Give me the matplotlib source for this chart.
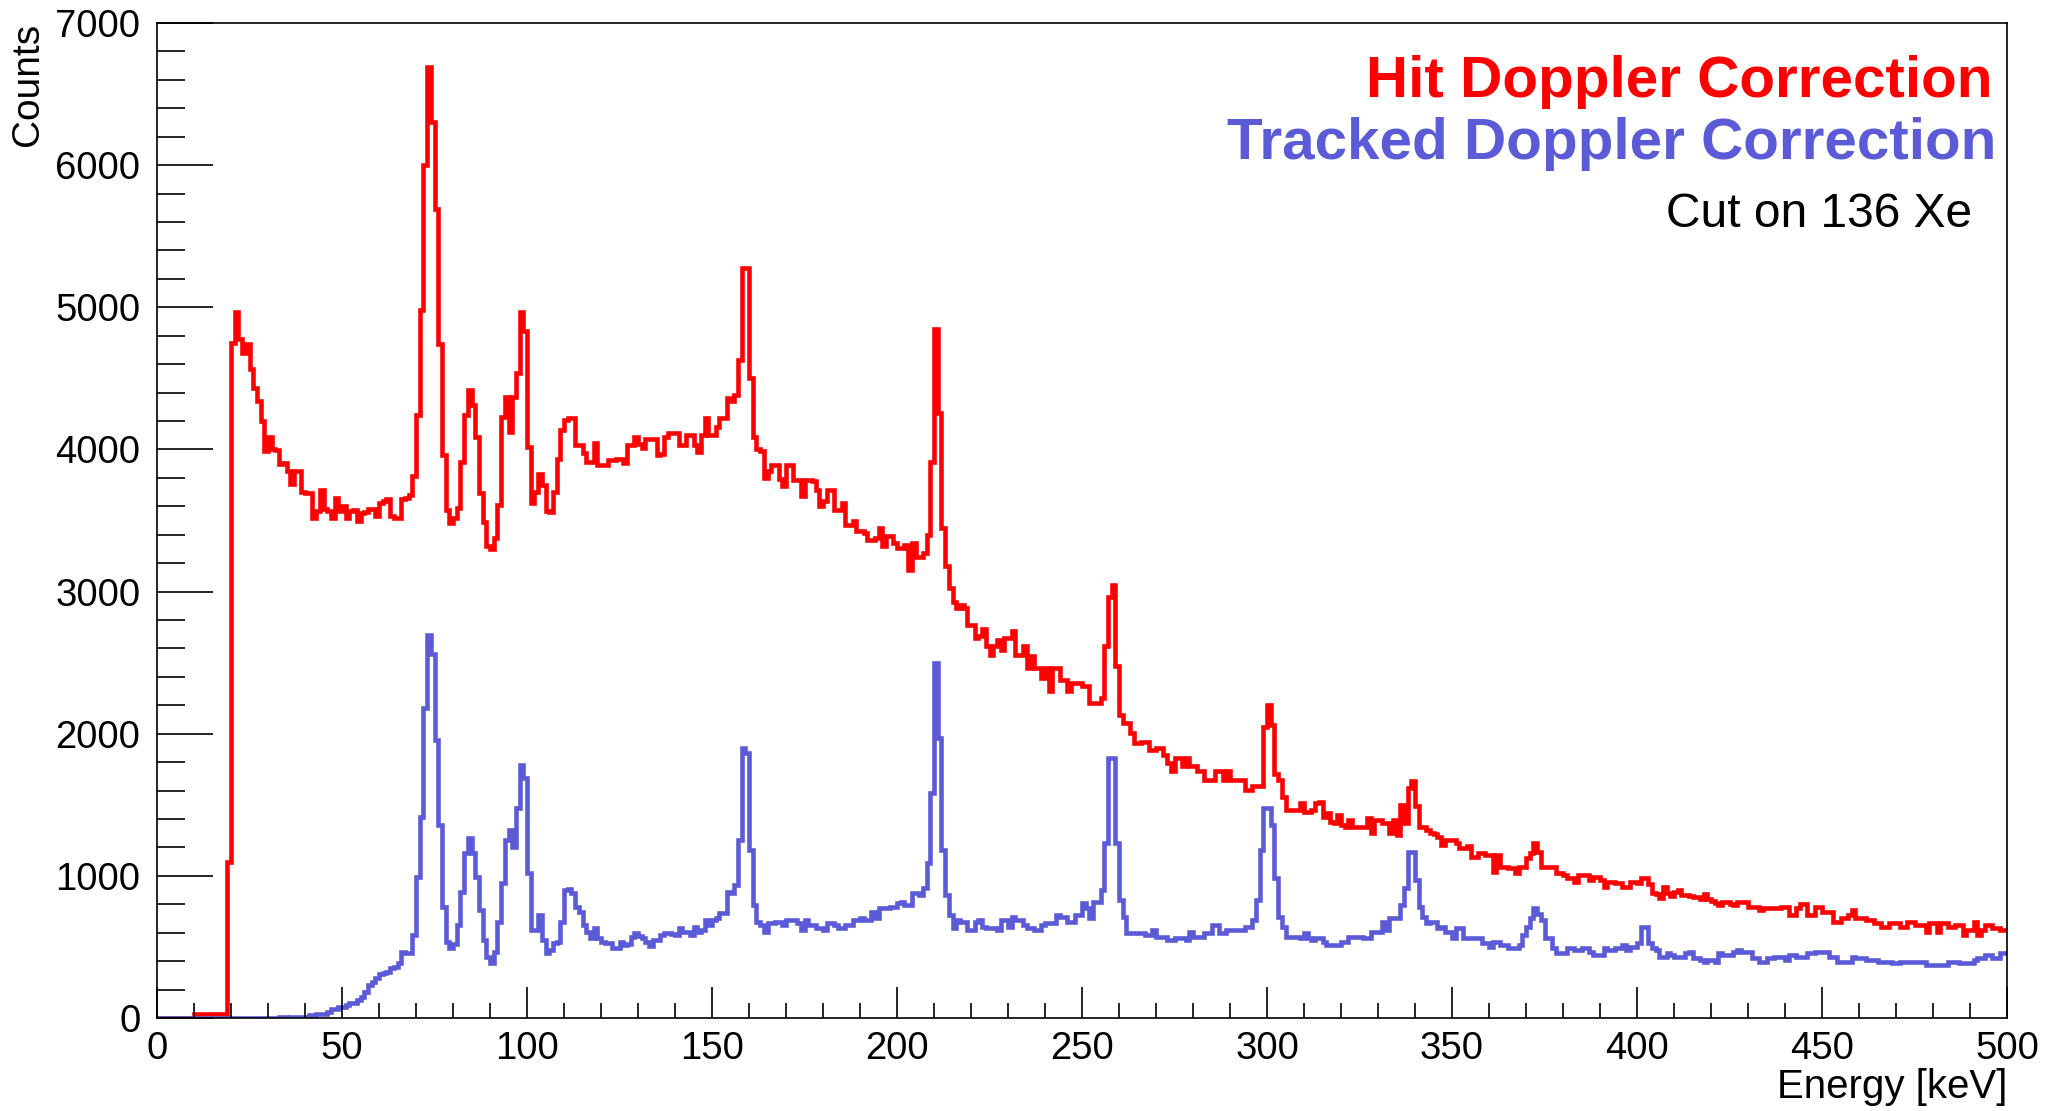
import numpy as np
import matplotlib
matplotlib.use("Agg")
import matplotlib.pyplot as plt
from matplotlib.ticker import MultipleLocator

plt.rcParams['font.family'] = ['Liberation Sans', 'DejaVu Sans']

# 1 keV bins from 0 to 500 keV
energy_edges = np.arange(0, 501, 1)

# Hit Doppler correction spectrum (counts per bin)
hit_counts = [
    0, 0, 0, 0, 0, 0, 0, 0, 0, 0,
    25, 28, 25, 30, 28, 26, 30, 27, 29, 1100,
    4750, 4970, 4780, 4680, 4740, 4565, 4430, 4340, 4200, 3990,
    4090, 4000, 3995, 3900, 3905, 3845, 3760, 3850, 3850, 3700,
    3690, 3690, 3520, 3570, 3715, 3580, 3570, 3520, 3660, 3570,
    3600, 3520, 3570, 3575, 3500, 3550, 3560, 3580, 3580, 3530,
    3620, 3640, 3650, 3530, 3520, 3515, 3650, 3660, 3680, 3810,
    4245, 4980, 6000, 6690, 6300, 5690, 4740, 3960, 3575, 3480,
    3520, 3590, 3915, 4245, 4420, 4315, 4090, 3690, 3490, 3320,
    3300, 3375, 3610, 4230, 4370, 4120, 4370, 4540, 4970, 4830,
    4020, 3620, 3700, 3830, 3750, 3570, 3560, 3700, 3930, 4140,
    4210, 4220, 4220, 4030, 4030, 3975, 3915, 3915, 4045, 3890,
    3890, 3890, 3925, 3925, 3930, 3930, 3905, 4030, 4030, 4090,
    4040, 4010, 4070, 4070, 4070, 3960, 3965, 4090, 4115, 4115,
    4115, 4030, 4030, 4100, 4100, 4030, 3985, 4100, 4220, 4100,
    4100, 4160, 4220, 4220, 4360, 4340, 4385, 4630, 5275, 5275,
    4500, 4090, 4000, 3990, 3800, 3845, 3890, 3890, 3790, 3740,
    3890, 3890, 3785, 3785, 3670, 3785, 3785, 3775, 3715, 3600,
    3635, 3715, 3715, 3575, 3575, 3620, 3470, 3470, 3495, 3425,
    3425, 3410, 3365, 3365, 3375, 3445, 3320, 3390, 3390, 3340,
    3305, 3305, 3330, 3150, 3340, 3245, 3245, 3270, 3400, 3915,
    4845, 4255, 3445, 3180, 3025, 2930, 2885, 2905, 2885, 2765,
    2765, 2675, 2685, 2740, 2615, 2555, 2615, 2660, 2590, 2670,
    2670, 2720, 2555, 2555, 2615, 2460, 2545, 2460, 2460, 2390,
    2460, 2300, 2460, 2460, 2380, 2380, 2300, 2355, 2355, 2355,
    2335, 2335, 2215, 2215, 2215, 2250, 2615, 2965, 3045, 2475,
    2130, 2075, 2075, 2005, 1935, 1935, 1945, 1945, 1885, 1885,
    1900, 1900, 1850, 1795, 1735, 1830, 1830, 1770, 1830, 1770,
    1770, 1735, 1735, 1675, 1675, 1675, 1735, 1735, 1675, 1735,
    1675, 1675, 1675, 1675, 1605, 1605, 1630, 1630, 1630, 2050,
    2200, 2060, 1720, 1675, 1555, 1465, 1465, 1465, 1465, 1510,
    1450, 1450, 1465, 1510, 1520, 1415, 1440, 1380, 1370, 1430,
    1360, 1345, 1395, 1345, 1345, 1345, 1345, 1405, 1300, 1395,
    1395, 1370, 1370, 1300, 1390, 1290, 1500, 1370, 1615, 1665,
    1490, 1345, 1345, 1325, 1300, 1295, 1275, 1215, 1250, 1250,
    1250, 1230, 1195, 1195, 1210, 1135, 1135, 1160, 1160, 1145,
    1145, 1030, 1145, 1065, 1065, 1055, 1055, 1020, 1065, 1065,
    1125, 1160, 1230, 1170, 1065, 1065, 1065, 1065, 1020, 1020,
    1005, 985, 985, 960, 1005, 1005, 1005, 970, 995, 995,
    970, 925, 960, 960, 950, 950, 925, 925, 960, 960,
    950, 985, 985, 940, 880, 870, 842, 920, 880, 860,
    890, 900, 866, 866, 860, 854, 850, 840, 870, 840,
    820, 810, 795, 819, 819, 800, 795, 819, 819, 819,
    784, 784, 784, 760, 772, 772, 772, 772, 772, 784,
    784, 725, 725, 772, 802, 802, 725, 725, 784, 784,
    748, 748, 748, 678, 678, 702, 702, 725, 760, 702,
    702, 702, 690, 690, 667, 667, 643, 643, 667, 667,
    667, 643, 643, 678, 678, 655, 655, 655, 608, 667,
    667, 608, 667, 667, 643, 643, 655, 655, 585, 620,
    620, 678, 585, 620, 655, 655, 631, 631, 620, 620,
]

# Tracked Doppler correction spectrum (counts per bin)
tracked_counts = [
    0, 0, 0, 0, 0, 0, 0, 0, 0, 0,
    0, 0, 0, 0, 0, 0, 0, 0, 0, 0,
    0, 0, 0, 0, 0, 0, 0, 0, 0, 0,
    2, 3, 3, 4, 4, 3, 5, 6, 5, 8,
    10, 23, 23, 26, 26, 30, 44, 61, 61, 80,
    75, 90, 104, 108, 127, 150, 180, 232, 255, 280,
    308, 318, 326, 349, 361, 385, 467, 455, 455, 583,
    993, 1417, 2179, 2695, 2560, 1956, 1358, 784, 538, 490,
    520, 654, 889, 1159, 1264, 1159, 993, 760, 549, 432,
    385, 467, 678, 948, 1252, 1323, 1206, 1475, 1781, 1689,
    1018, 619, 619, 725, 549, 455, 478, 525, 537, 678,
    900, 905, 877, 783, 747, 654, 607, 560, 630, 560,
    537, 525, 525, 490, 490, 537, 513, 520, 572, 595,
    580, 560, 537, 507, 549, 549, 584, 595, 595, 590,
    584, 630, 607, 607, 584, 642, 607, 620, 689, 654,
    690, 701, 736, 736, 889, 877, 936, 1253, 1898, 1862,
    1182, 795, 678, 654, 607, 666, 666, 678, 678, 654,
    689, 689, 689, 666, 619, 689, 654, 654, 630, 630,
    619, 666, 666, 654, 630, 630, 654, 654, 689, 689,
    701, 689, 689, 748, 701, 771, 771, 771, 783, 783,
    806, 818, 795, 795, 877, 877, 865, 912, 1088, 1581,
    2496, 1968, 1182, 865, 724, 630, 689, 678, 678, 619,
    619, 678, 689, 642, 630, 630, 630, 619, 690, 690,
    643, 713, 690, 690, 655, 631, 631, 619, 619, 655,
    666, 666, 666, 725, 713, 713, 678, 678, 725, 725,
    807, 772, 702, 819, 819, 901, 1229, 1829, 1829, 1229,
    831, 713, 596, 596, 596, 596, 596, 584, 584, 619,
    573, 573, 573, 549, 549, 561, 561, 561, 549, 608,
    573, 573, 573, 596, 596, 655, 655, 596, 596, 619,
    619, 619, 619, 619, 643, 643, 690, 831, 1182, 1475,
    1475, 1358, 983, 713, 643, 573, 573, 573, 573, 561,
    596, 561, 549, 561, 561, 538, 514, 514, 514, 514,
    538, 538, 568, 568, 568, 568, 561, 561, 608, 608,
    608, 678, 619, 702, 702, 702, 796, 913, 1170, 1170,
    971, 784, 713, 666, 678, 678, 631, 643, 608, 608,
    561, 631, 631, 561, 561, 561, 561, 561, 526, 526,
    502, 538, 538, 514, 514, 491, 491, 491, 514, 584,
    643, 702, 772, 730, 690, 561, 561, 491, 455, 455,
    455, 491, 491, 479, 479, 491, 491, 467, 444, 444,
    444, 491, 479, 479, 491, 491, 514, 479, 502, 502,
    526, 643, 643, 526, 491, 479, 432, 432, 455, 444,
    432, 432, 432, 455, 467, 420, 420, 409, 397, 409,
    409, 397, 455, 444, 444, 444, 467, 479, 467, 467,
    467, 420, 420, 397, 397, 420, 420, 432, 432, 432,
    409, 444, 444, 432, 432, 432, 455, 455, 467, 467,
    467, 467, 432, 432, 397, 397, 397, 397, 432, 420,
    420, 420, 409, 409, 409, 397, 397, 397, 397, 385,
    385, 397, 397, 397, 397, 397, 397, 397, 373, 373,
    373, 373, 373, 373, 397, 397, 397, 385, 385, 385,
    385, 409, 420, 420, 444, 444, 420, 420, 455, 455,
]

hit_color = '#ff0000'
tracked_color = '#5b5bd8'

fig = plt.figure(figsize=(20.61, 11.11), dpi=100)
ax = fig.add_axes([0.0762, 0.0837, 0.8976, 0.8956])

ax.stairs(hit_counts, energy_edges, baseline=None, color=hit_color, linewidth=3.3)
ax.stairs(tracked_counts, energy_edges, baseline=None, color=tracked_color, linewidth=3.3)

ax.set_xlim(0, 500)
ax.set_ylim(0, 7000)

ax.xaxis.set_major_locator(MultipleLocator(50))
ax.xaxis.set_minor_locator(MultipleLocator(10))
ax.yaxis.set_major_locator(MultipleLocator(1000))
ax.yaxis.set_minor_locator(MultipleLocator(200))

ax.tick_params(axis='both', which='both', direction='in', top=False, right=False,
               width=1.2, colors='black', labelsize=27.5)
ax.tick_params(axis='x', which='major', length=22, pad=9)
ax.tick_params(axis='x', which='minor', length=11)
ax.tick_params(axis='y', which='major', length=40, pad=12)
ax.tick_params(axis='y', which='minor', length=20)

for sp in ax.spines.values():
    sp.set_linewidth(1.2)

# axis titles at the ends of the axes, ROOT style
fig.text(28 / 2061, 1 - 23 / 1111, 'Counts', rotation=90, ha='center', va='top', fontsize=28)
fig.text(2007 / 2061, 1 - 1098 / 1111, 'Energy [keV]', ha='right', va='baseline', fontsize=29)

ax.text(0.9924, 0.9257, 'Hit Doppler Correction', transform=ax.transAxes,
        ha='right', va='baseline', fontsize=42, fontweight='bold', color=hit_color)
ax.text(0.9945, 0.8635, 'Tracked Doppler Correction', transform=ax.transAxes,
        ha='right', va='baseline', fontsize=42, fontweight='bold', color=tracked_color)
ax.text(0.981, 0.795, 'Cut on 136 Xe', transform=ax.transAxes,
        ha='right', va='baseline', fontsize=34.5, color='black')

fig.savefig('out.png', dpi=100)
